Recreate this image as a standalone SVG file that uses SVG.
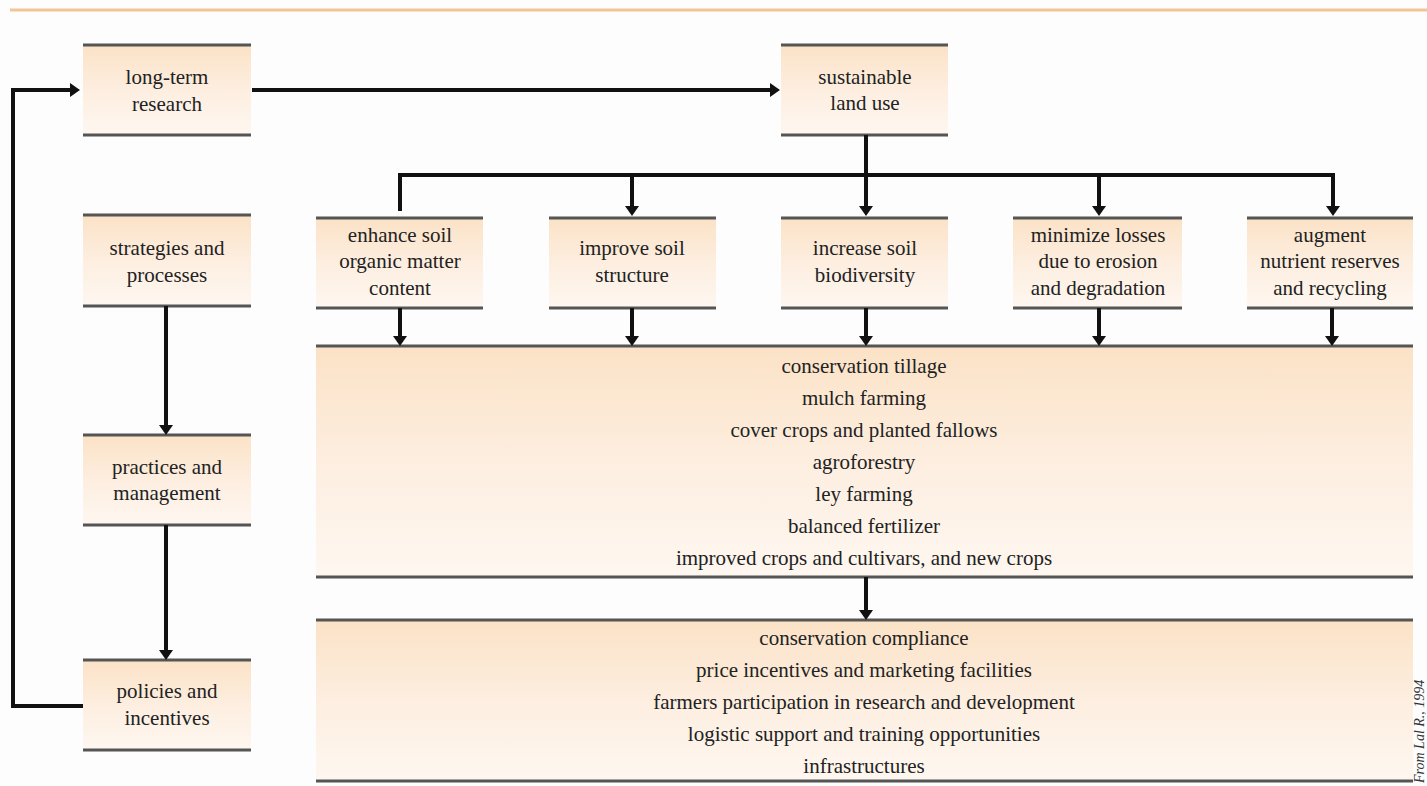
<svg xmlns="http://www.w3.org/2000/svg" width="1427" height="786" viewBox="0 0 1427 786">
<defs>
<linearGradient id="g" x1="0" y1="0" x2="0" y2="1">
<stop offset="0" stop-color="#fbe2c6"/>
<stop offset="0.5" stop-color="#fdeee0"/>
<stop offset="1" stop-color="#fef7f0"/>
</linearGradient>
<marker id="ah" markerUnits="userSpaceOnUse" markerWidth="16" markerHeight="16" refX="5" refY="8" orient="auto" viewBox="0 0 16 16">
<path d="M0,1 L10,8 L0,15 Z" fill="#111"/>
</marker>
<style>
.ln{stroke:#111;stroke-width:4;fill:none;stroke-linejoin:miter}
.ar{marker-end:url(#ah)}
.bar{stroke:#555;stroke-width:3;fill:none}
.box{fill:url(#g)}
.t{font-family:'Liberation Serif',serif;font-size:21px;fill:#222;text-anchor:middle}
.cr{font-family:'Liberation Serif',serif;font-size:14px;font-style:italic;fill:#333}
</style>
</defs>
<rect width="1427" height="786" fill="#fdfdfd"/>
<line x1="10" y1="10" x2="1427" y2="10" stroke="#f2c594" stroke-width="3"/>

<g id="long-term-research">
<rect class="box" x="83" y="45" width="168" height="90"/>
<path class="bar" d="M83,45 H251 M83,135 H251"/>
<text class="t" x="167" y="84">long-term</text>
<text class="t" x="167" y="111">research</text>
</g>
<g id="sustainable-land-use">
<rect class="box" x="781" y="45" width="167" height="90"/>
<path class="bar" d="M781,45 H948 M781,135 H948"/>
<text class="t" x="865" y="84">sustainable</text>
<text class="t" x="865" y="110">land use</text>
</g>
<g id="strategies-and-processes">
<rect class="box" x="83" y="215" width="168" height="91"/>
<path class="bar" d="M83,215 H251 M83,306 H251"/>
<text class="t" x="167" y="255">strategies and</text>
<text class="t" x="167" y="282">processes</text>
</g>
<g id="practices-and-management">
<rect class="box" x="83" y="435" width="168" height="90"/>
<path class="bar" d="M83,435 H251 M83,525 H251"/>
<text class="t" x="167" y="474">practices and</text>
<text class="t" x="167" y="500">management</text>
</g>
<g id="policies-and-incentives">
<rect class="box" x="83" y="660" width="168" height="90"/>
<path class="bar" d="M83,660 H251 M83,750 H251"/>
<text class="t" x="167" y="698">policies and</text>
<text class="t" x="167" y="725">incentives</text>
</g>

<g id="enhance-soil-organic-matter">
<rect class="box" x="316" y="218" width="167" height="90"/>
<path class="bar" d="M316,218 H483 M316,308 H483"/>
<text class="t" x="400" y="242">enhance soil</text>
<text class="t" x="400" y="268">organic matter</text>
<text class="t" x="400" y="295">content</text>
</g>
<g id="improve-soil-structure">
<rect class="box" x="549" y="218" width="167" height="90"/>
<path class="bar" d="M549,218 H716 M549,308 H716"/>
<text class="t" x="632" y="255">improve soil</text>
<text class="t" x="632" y="282">structure</text>
</g>
<g id="increase-soil-biodiversity">
<rect class="box" x="781" y="218" width="167" height="90"/>
<path class="bar" d="M781,218 H948 M781,308 H948"/>
<text class="t" x="865" y="255">increase soil</text>
<text class="t" x="865" y="282">biodiversity</text>
</g>
<g id="minimize-losses">
<rect class="box" x="1013" y="218" width="169" height="90"/>
<path class="bar" d="M1013,218 H1182 M1013,308 H1182"/>
<text class="t" x="1098" y="242">minimize losses</text>
<text class="t" x="1098" y="268">due to erosion</text>
<text class="t" x="1098" y="295">and degradation</text>
</g>
<g id="augment-nutrient-reserves">
<rect class="box" x="1247" y="218" width="166" height="90"/>
<path class="bar" d="M1247,218 H1413 M1247,308 H1413"/>
<text class="t" x="1330" y="242">augment</text>
<text class="t" x="1330" y="268">nutrient reserves</text>
<text class="t" x="1330" y="295">and recycling</text>
</g>

<g id="practices-list">
<rect class="box" x="316" y="346" width="1097" height="231"/>
<path class="bar" d="M316,346 H1413 M316,577 H1413"/>
<text class="t" x="864" y="373">conservation tillage</text>
<text class="t" x="864" y="405">mulch farming</text>
<text class="t" x="864" y="437">cover crops and planted fallows</text>
<text class="t" x="864" y="469">agroforestry</text>
<text class="t" x="864" y="501">ley farming</text>
<text class="t" x="864" y="533">balanced fertilizer</text>
<text class="t" x="864" y="565">improved crops and cultivars, and new crops</text>
</g>
<g id="policies-list">
<rect class="box" x="316" y="620" width="1097" height="161"/>
<path class="bar" d="M316,620 H1413 M316,781 H1413"/>
<text class="t" x="864" y="645">conservation compliance</text>
<text class="t" x="864" y="677">price incentives and marketing facilities</text>
<text class="t" x="864" y="709">farmers participation in research and development</text>
<text class="t" x="864" y="741">logistic support and training opportunities</text>
<text class="t" x="864" y="773">infrastructures</text>
</g>

<g id="connectors">
<path class="ln ar" d="M83,706 H13 V90 H75"/>
<path class="ln ar" d="M252,90 H775"/>
<path class="ln" d="M866,135 V175"/>
<path class="ln ar" d="M400,211 V175 H1333 V211"/>
<path class="ln ar" d="M632,175 V211"/>
<path class="ln ar" d="M866,175 V211"/>
<path class="ln ar" d="M1099,175 V211"/>
<path class="ln ar" d="M400,308 V341"/>
<path class="ln ar" d="M632,308 V341"/>
<path class="ln ar" d="M866,308 V341"/>
<path class="ln ar" d="M1099,308 V341"/>
<path class="ln ar" d="M1332,308 V341"/>
<path class="ln ar" d="M866,577 V615"/>
<path class="ln ar" d="M166,306 V430"/>
<path class="ln ar" d="M166,525 V655"/>
</g>

<text class="cr" transform="translate(1424,783) rotate(-90)">From Lal R., 1994</text>
</svg>
